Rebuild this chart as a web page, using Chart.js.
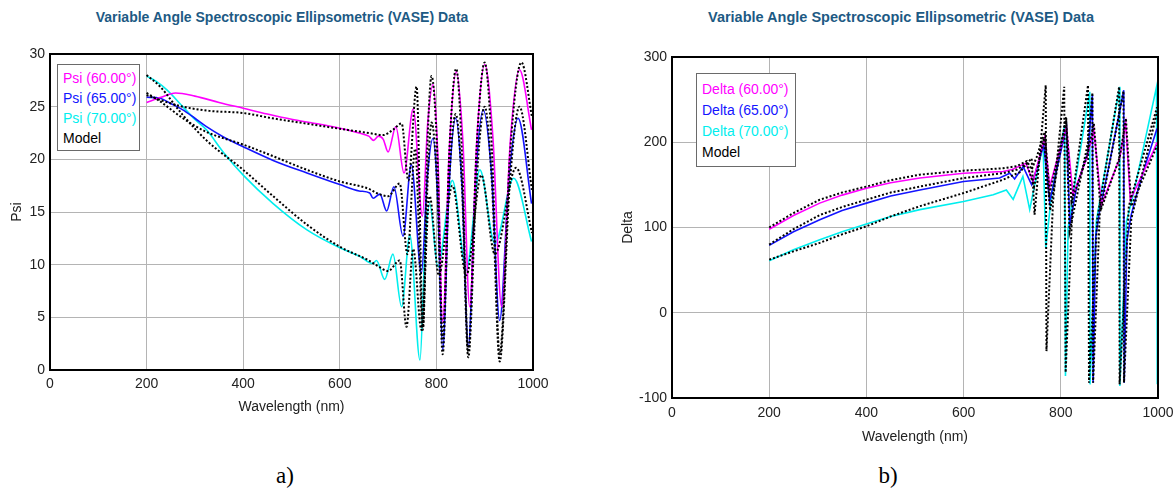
<!DOCTYPE html>
<html>
<head>
<meta charset="utf-8">
<script src="https://cdn.jsdelivr.net/npm/chart.js@4.4.1/dist/chart.umd.min.js"></script>
<style>
    body { margin: 0; background: #fff; width: 1176px; height: 490px; position: relative; overflow: hidden; font-family: "Liberation Sans", Arial, sans-serif; }
    .title { position: absolute; top: 9px; font-weight: bold; font-size: 14px; color: #1d5a84; white-space: nowrap; transform: translateX(-50%); }
    canvas { position: absolute; }
    .legend { position: absolute; border: 1px solid #6a6a6a; background: #fff; font-size: 14px; box-sizing: border-box; z-index: 2; white-space: nowrap; }
    .caption { position: absolute; top: 463px; font-family: "Liberation Serif", "Times New Roman", serif; font-size: 23px; transform: translateX(-50%); }
</style>
</head>
<body>
<div class="title" style="left: 282px;">Variable Angle Spectroscopic Ellipsometric (VASE) Data</div>
<div class="title" style="left: 901px; font-size: 14.5px;">Variable Angle Spectroscopic Ellipsometric (VASE) Data</div>

<canvas id="psiChart" width="560" height="380" style="left: 0; top: 40px;"></canvas>
<canvas id="deltaChart" width="576" height="410" style="left: 600px; top: 40px;"></canvas>

<div class="legend" style="left: 57px; top: 64px; width: 83px; height: 87px; padding: 3px 0 0 5px; line-height: 20px;">
    <div style="color: #ff00ff;">Psi (60.00°)</div>
    <div style="color: #1414ff;">Psi (65.00°)</div>
    <div style="color: #00eeee;">Psi (70.00°)</div>
    <div style="color: #000;">Model</div>
</div>
<div class="legend" style="left: 696px; top: 73px; width: 100px; height: 94px; padding: 5px 0 0 5px; line-height: 21px;">
    <div style="color: #ff00ff;">Delta (60.00°)</div>
    <div style="color: #1414ff;">Delta (65.00°)</div>
    <div style="color: #00eeee;">Delta (70.00°)</div>
    <div style="color: #000;">Model</div>
</div>

<div class="caption" style="left: 285px;">a)</div>
<div class="caption" style="left: 888px;">b)</div>

<script>
// Psi, measured
const psiWl60 = [200, 230, 260, 300, 350, 400, 450, 500, 550, 600, 640, 660, 670, 680, 690, 700, 716, 733, 752, 771, 782, 793, 803, 813, 827, 841, 855, 869, 884, 900, 917, 935, 953, 972, 997];
const psi60 = [25.4, 25.9, 26.3, 26.0, 25.4, 24.85, 24.3, 23.8, 23.4, 22.95, 22.5, 22.2, 21.8, 22.2, 21.9, 20.7, 23.1, 18.7, 24.8, 14.6, 23.4, 27.1, 20.3, 4.5, 21.2, 28.3, 21.6, 6.0, 22.1, 29.0, 22.1, 6.0, 21.7, 28.5, 22.8];
const psiWl65 = [200, 228, 250, 275, 300, 324, 360, 400, 462, 532, 600, 640, 662, 669, 683, 697, 712, 731, 748, 769, 781, 793, 803, 813, 826, 840, 853, 866, 881, 897, 914, 931, 950, 969, 997];
const psi65 = [25.9, 25.8, 25.3, 24.7, 23.9, 23.1, 22.1, 21.2, 19.9, 18.7, 17.6, 17.0, 16.8, 16.3, 16.7, 15.1, 17.4, 12.7, 19.5, 9.2, 18.2, 22.0, 16.0, 1.9, 17.3, 23.9, 17.4, 2.2, 17.95, 24.7, 18.7, 4.7, 18.1, 23.9, 15.8];
const psiWl70 = [200, 220, 242, 275, 300, 324, 360, 400, 462, 532, 600, 641, 668, 676, 693, 710, 728, 745, 766, 776, 786, 803, 833, 862, 890, 921, 960, 997];
const psi70 = [27.9, 27.4, 26.6, 25.0, 23.8, 22.8, 20.6, 18.5, 15.8, 13.3, 11.6, 10.8, 10.1, 10.4, 8.6, 11.0, 6.0, 12.8, 0.95, 11.3, 15.8, 9.8, 18.0, 9.5, 19.0, 12.0, 18.2, 12.2];

// Psi, model fits
const psiModelWl60 = [200, 230, 275, 330, 400, 460, 530, 600, 660, 690, 710, 728, 742, 759, 772, 781, 790, 802, 813, 827, 841, 853, 866, 883, 900, 915, 931, 953, 976, 998];
const psiModel60 = [26.1, 25.6, 25.0, 24.6, 24.4, 23.9, 23.4, 22.9, 22.5, 22.3, 22.8, 23.4, 18.0, 26.9, 4.1, 20.8, 27.9, 20.4, 3.0, 21.0, 28.6, 20.5, 1.7, 20.9, 29.2, 20.9, 1.5, 20.9, 29.2, 24.0];
const psiModelWl65 = [200, 228, 275, 324, 400, 462, 532, 600, 660, 676, 700, 724, 740, 756, 772, 781, 790, 802, 813, 826, 840, 853, 866, 883, 900, 915, 931, 952, 972, 998];
const psiModel65 = [26.3, 25.5, 23.9, 22.6, 21.4, 20.3, 19.0, 17.9, 17.2, 16.8, 16.5, 17.7, 11.0, 21.0, 3.8, 17.0, 23.5, 16.9, 1.5, 17.5, 24.3, 17.4, 1.2, 17.8, 25.0, 17.7, 0.8, 17.7, 25.0, 17.0];
const psiModelWl70 = [200, 228, 275, 324, 400, 462, 532, 600, 660, 681, 700, 724, 738, 752, 769, 786, 805, 833, 862, 893, 921, 965, 998];
const psiModel70 = [28.0, 26.9, 24.2, 21.8, 19.0, 16.5, 13.8, 11.7, 10.4, 9.8, 9.4, 10.4, 4.1, 11.5, 3.8, 16.5, 9.0, 17.5, 9.0, 18.5, 11.0, 19.2, 13.0];

// Delta, measured
const deltaWl60 = [200, 250, 304, 350, 400, 450, 510, 600, 681, 700, 716, 728, 743, 767, 777, 811.6, 825, 853, 868, 883.6, 921, 933.6, 943, 990, 998];
const delta60 = [98, 114, 128.6, 138, 146, 152.5, 158, 163.7, 165.6, 168, 172.3, 175.4, 154, 206.5, 148, 218.3, 138, 181, 214.4, 126.6, 181, 222, 132.5, 189, 200];
const deltaWl65 = [200, 250, 304, 350, 400, 450, 510, 600, 674, 695, 705, 722.5, 740, 765, 777, 811.6, 818.5, 832, 856, 865, 866.5, 872, 880, 900, 929.5, 930.5, 936, 945, 955.6, 975, 998];
const delta65 = [79, 95, 109, 120, 128.6, 137, 144, 154, 158, 163.7, 157, 171.5, 150, 197, 130.5, 218.3, 103.3, 146, 189, 255.3, -82, 90, 120, 175, 261, -82, 85, 115, 138, 175, 216];
const deltaWl70 = [200, 250, 304, 350, 400, 450, 510, 600, 661, 688, 702, 722, 736, 763.6, 769, 781, 808, 809.6, 815, 825, 859.6, 860.1, 873, 887, 921, 921.5, 935, 949, 997, 998.5];
const delta70 = [61, 74, 85.7, 95, 104, 113, 121, 130.5, 138.4, 144, 133, 160, 121, 198.8, 76, 138.3, 220.2, -74.2, 99.4, 138, 259.2, -84, 107, 154, 265, -86, 107, 138, 265, -84];

// Delta, model fits
const deltaModelWl60 = [200, 250, 304, 350, 400, 450, 510, 600, 681, 710, 730, 740, 750, 767, 777, 811, 822, 853, 868, 882, 921, 934, 945, 990, 998];
const deltaModel60 = [100, 117, 132.6, 141, 148, 155.5, 162, 166.7, 169.4, 172, 178, 168, 182, 212, 140, 226, 130, 182, 222, 120, 182, 228, 125, 185, 196];
const deltaModelWl65 = [200, 250, 304, 350, 400, 450, 510, 600, 681, 710, 730, 745, 765, 778, 811, 818, 856, 865, 866.5, 880, 929, 930, 945, 998];
const deltaModel65 = [80, 98, 114.6, 124, 132.6, 141, 148, 158, 163.7, 168, 175, 148, 205, 120, 230, 95, 200, 258, -82, 115, 260, -82, 110, 235];
const deltaModelWl70 = [200, 250, 304, 350, 400, 450, 510, 600, 681, 716, 730, 740, 746, 769, 770.5, 784, 807, 810, 825, 856, 858, 875, 920, 921, 940, 998];
const deltaModel70 = [62.3, 72, 82, 92, 101.4, 113, 125, 140.4, 156, 165, 175, 181, 115, 267, -45, 130, 265, -70, 140, 267, -82, 110, 265, -84, 125, 241];

const MAGENTA = '#ff00ff';
const BLUE = '#1414ff';
const CYAN = '#00eeee';

Chart.defaults.font.family = '"Liberation Sans", Arial, sans-serif';
Chart.defaults.color = '#222';

function pts(xs, ys) {
    return xs.map((x, i) => ({ x, y: ys[i] }));
}

function measured(xs, ys, color) {
    return { data: pts(xs, ys), borderColor: color, borderWidth: 1.6, order: 1 };
}

function model(xs, ys) {
    return { data: pts(xs, ys), borderColor: '#000', borderWidth: 2, borderDash: [2, 2], order: 0 };
}

// black box round the plot area
const frame = {
    id: 'frame',
    afterDatasetsDraw(chart) {
        const { ctx, chartArea: a } = chart;
        ctx.save();
        ctx.strokeStyle = '#000';
        ctx.lineWidth = 2;
        ctx.strokeRect(a.left, a.top, a.right - a.left, a.bottom - a.top);
        ctx.restore();
    }
};

function makeChart(id, o) {
    return new Chart(document.getElementById(id), {
        type: 'line',
        data: { datasets: o.datasets },
        plugins: [frame],
        options: {
            responsive: false,
            animation: false,
            devicePixelRatio: 1,
            events: [],
            layout: { padding: { top: o.padTop, right: o.padRight, left: 0, bottom: 0 } },
            elements: {
                point: { radius: 0 },
                line: o.line
            },
            plugins: { legend: { display: false }, tooltip: { enabled: false } },
            scales: {
                x: {
                    type: 'linear',
                    min: 0,
                    max: 1000,
                    ticks: { stepSize: 200, padding: o.xTickPad, font: { size: 14 }, maxRotation: 0, callback: v => String(v) },
                    grid: { color: '#b4b4b4', drawTicks: false },
                    border: { display: false },
                    title: { display: true, text: 'Wavelength (nm)', font: { size: 14 }, padding: { top: 0, bottom: 4 } },
                    // fixed box; the end labels may hang into the padding
                    afterFit: s => { s.height = o.xHeight; s.paddingLeft = 0; s.paddingRight = 0; }
                },
                y: {
                    min: o.yMin,
                    max: o.yMax,
                    ticks: { stepSize: o.yStep, padding: 5, font: { size: 14 }, callback: v => String(v) },
                    grid: { color: '#b4b4b4', drawTicks: false },
                    border: { display: false },
                    title: { display: true, text: o.yTitle, font: { size: 14 }, padding: { top: o.yTitlePad, bottom: 0 } },
                    afterFit: s => { s.width = o.yWidth; s.paddingTop = 0; s.paddingBottom = 0; }
                }
            }
        }
    });
}

makeChart('psiChart', {
    datasets: [
        measured(psiWl60, psi60, MAGENTA),
        measured(psiWl65, psi65, BLUE),
        measured(psiWl70, psi70, CYAN),
        model(psiModelWl60, psiModel60),
        model(psiModelWl65, psiModel65),
        model(psiModelWl70, psiModel70)
    ],
    line: { cubicInterpolationMode: 'monotone' },
    padTop: 14, padRight: 27,
    xHeight: 50, xTickPad: 6,
    yWidth: 50, yTitlePad: 9,
    yMin: 0, yMax: 30, yStep: 5, yTitle: 'Psi'
});

makeChart('deltaChart', {
    datasets: [
        measured(deltaWl60, delta60, MAGENTA),
        measured(deltaWl65, delta65, BLUE),
        measured(deltaWl70, delta70, CYAN),
        model(deltaModelWl60, deltaModel60),
        model(deltaModelWl65, deltaModel65),
        model(deltaModelWl70, deltaModel70)
    ],
    line: { tension: 0 },
    padTop: 17, padRight: 18,
    xHeight: 52, xTickPad: 7,
    yWidth: 72, yTitlePad: 20,
    yMin: -100, yMax: 300, yStep: 100, yTitle: 'Delta'
});
</script>
</body>
</html>
